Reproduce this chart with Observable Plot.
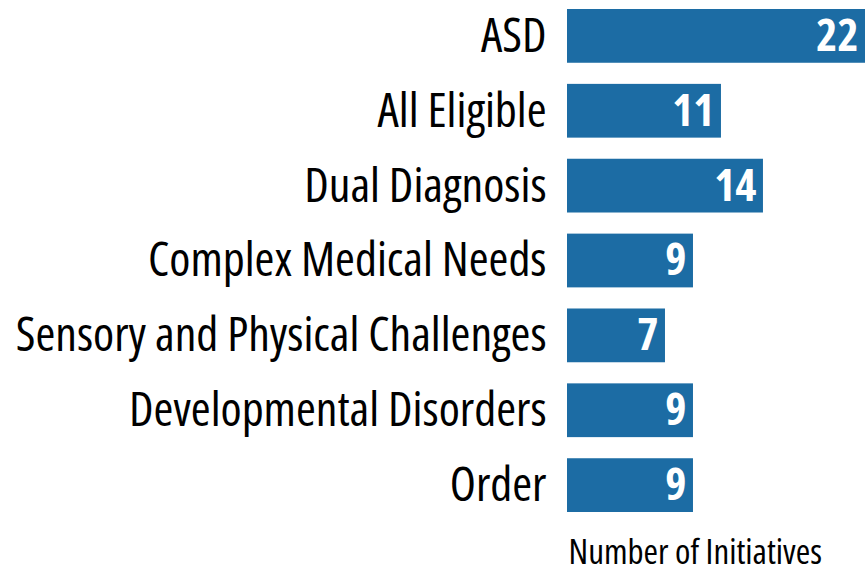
<!DOCTYPE html>
<html><head><meta charset="utf-8">
<script src="https://cdn.jsdelivr.net/npm/d3@7"></script>
<script src="https://cdn.jsdelivr.net/npm/@observablehq/plot@0.6"></script>
<style>body{margin:0;background:#fff;overflow:hidden}</style>
</head><body>
<div id="chart"></div>
<script>
const categories = ["ASD", "All Eligible", "Dual Diagnosis", "Complex Medical Needs", "Sensory and Physical Challenges", "Developmental Disorders", "Order"];
const values = [22, 11, 14, 9, 7, 9, 9];
const axisLabel = "Number of Initiatives";

const data = categories.map((c, i) => ({category: c, value: values[i]}));

const chart = Plot.plot({
  width: 865,
  height: 574,
  marginLeft: 567,
  marginRight: 0,
  marginTop: 9,
  marginBottom: 62,
  style: {fontFamily: "'Open Sans', sans-serif", fontStretch: "condensed", color: "#000", background: "#fff"},
  x: {domain: [0, 21.29], clamp: true, axis: null},
  y: {domain: categories, paddingInner: 0.282, paddingOuter: 0, round: false, label: null},
  marks: [
    Plot.barX(data, {x: "value", y: "category", fill: "#1c6ca4"}),
    Plot.axisY({tickSize: 0, tickPadding: 21, fontSize: 48, label: null}),
    Plot.text(data, {x: "value", y: "category", text: d => String(d.value), textAnchor: "end", dx: -7, fill: "#fff", fontWeight: "bold", fontSize: 45}),
    Plot.text([axisLabel], {frameAnchor: "bottom-left", textAnchor: "start", lineAnchor: "middle", dy: 40, dx: 1, fontSize: 35, fill: "#000"})
  ]
});
document.getElementById("chart").appendChild(chart);
</script></body></html>
